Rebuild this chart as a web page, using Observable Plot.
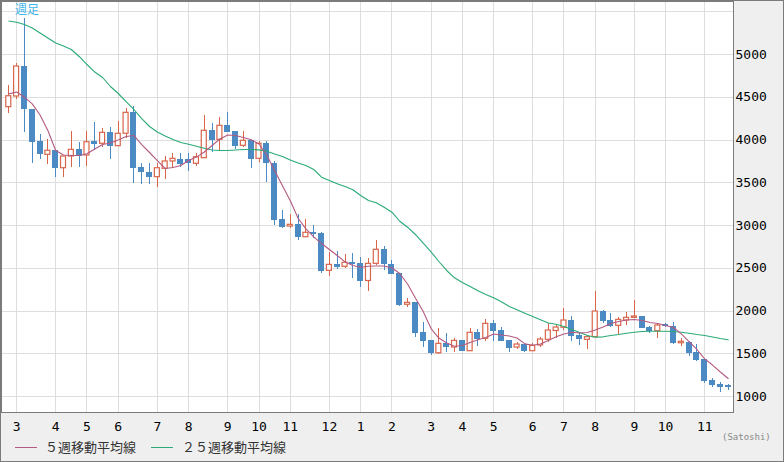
<!DOCTYPE html>
<html><head><meta charset="utf-8">
<script src="https://cdn.jsdelivr.net/npm/d3@7"></script>
<script src="https://cdn.jsdelivr.net/npm/@observablehq/plot@0.6"></script>
<style>
body{margin:0;background:#efefef;}
#wrap{position:relative;width:784px;height:462px;background:#efefef;overflow:hidden;}
#border{position:absolute;left:0;top:0;width:784px;height:462px;box-sizing:border-box;border:1px solid #7b7b7b;pointer-events:none;}
.ov{position:absolute;white-space:nowrap;}
.sw{position:absolute;height:0;border-top:1px solid;}
</style></head>
<body>
<div id="wrap"></div>
<script>
// ---- data ----
const firstWeek = "2015-02-23";   // weekly candles (Monday start)
const lastWeek  = "2016-11-28";
const open  = [4384,4509,4860,4353,3982,3827,3874,3670,3807,3885,
               3819,3979,3956,4084,3928,4073,4318,3682,3620,3565,
               3663,3749,3772,3772,3722,3787,4108,4002,4173,4103,
               3932,3991,3780,3956,3729,3070,2988,3008,2863,2915,
               2906,2470,2544,2517,2564,2552,2351,2552,2716,2544,
               2435,2073,2103,1745,1655,1506,1616,1573,1651,1530,
               1745,1675,1850,1772,1651,1573,1608,1530,1597,1663,
               1766,1804,1889,1713,1663,1694,1998,1889,1827,1889,
               1920,1936,1811,1764,1839,1819,1623,1635,1518,1433,
               1187,1144,1125];
const high  = [4634,4898,5417,4353,4061,4002,3874,3807,4099,3967,
               4099,4201,4138,4150,4216,4365,4392,3722,3722,3722,
               3811,3838,3838,3846,3838,4290,4197,4260,4322,4103,
               4103,3991,3986,3986,3752,3176,3125,3125,3070,3000,
               2922,2681,2696,2657,2669,2629,2614,2825,2754,2591,
               2435,2143,2103,1869,1655,1792,1733,1675,1651,1792,
               1780,1897,1889,1811,1651,1635,1608,1616,1694,1850,
               1842,2033,1939,1733,1713,2228,2006,1967,1928,1986,
               2123,1936,1819,1850,1857,1869,1675,1647,1608,1433,
               1214,1160,1137];
const low   = [4313,4474,4091,3729,3772,3713,3565,3565,3682,3682,
               3694,3877,3916,3768,3928,4021,3495,3476,3476,3448,
               3535,3663,3682,3635,3694,3787,3857,3877,4091,3889,
               3916,3670,3740,3506,3000,2961,2961,2825,2863,2844,
               2435,2407,2485,2501,2384,2278,2234,2532,2474,2427,
               2053,2044,1694,1577,1483,1491,1518,1518,1530,1530,
               1588,1647,1647,1647,1518,1546,1518,1530,1577,1635,
               1682,1772,1647,1596,1550,1694,1850,1804,1725,1830,
               1920,1799,1733,1682,1811,1605,1585,1468,1413,1149,
               1109,1050,1070];
const close = [4512,4860,4353,3974,3827,3874,3670,3807,3885,3807,
               3974,3947,4084,3928,4073,4318,3670,3620,3565,3670,
               3749,3780,3713,3722,3799,4108,3994,4166,4091,3928,
               3991,3772,3956,3722,3058,2977,3008,2863,2915,2895,
               2466,2540,2512,2564,2544,2345,2552,2716,2540,2427,
               2064,2096,1740,1647,1506,1616,1570,1651,1530,1745,
               1670,1850,1764,1647,1565,1608,1530,1593,1667,1772,
               1807,1889,1705,1663,1694,1994,1881,1819,1897,1920,
               1936,1799,1764,1830,1822,1616,1640,1506,1421,1179,
               1129,1109,1102];
const ma5   = [4540,4561,4501,4423,4292,4111,3877,3825,3819,3819,
               3839,3895,3947,3965,4000,4041,4053,3947,3854,3760,
               3667,3678,3702,3760,3800,3860,3936,4012,4059,4053,
               4029,4002,3953,3822,3643,3464,3289,3085,2961,2868,
               2789,2719,2649,2575,2532,2512,2524,2526,2526,2503,
               2439,2316,2152,1994,1795,1684,1626,1588,1596,1632,
               1663,1690,1731,1719,1708,1684,1616,1600,1614,1655,
               1700,1731,1752,1743,1749,1778,1813,1854,1877,1895,
               1901,1889,1866,1854,1830,1807,1733,1643,1550,1441,
               1368,1287,1211];
const ma25  = [5392,5378,5351,5310,5251,5193,5134,5099,5059,4977,
               4883,4795,4731,4626,4544,4450,4357,4251,4158,4093,
               4046,4006,3971,3950,3927,3904,3883,3877,3877,3883,
               3889,3889,3885,3869,3836,3807,3766,3731,3702,3655,
               3565,3526,3488,3456,3418,3351,3292,3266,3214,3156,
               3050,2980,2895,2793,2692,2579,2474,2388,2333,2287,
               2236,2193,2154,2108,2053,2014,1974,1936,1897,1860,
               1845,1819,1784,1749,1713,1694,1698,1713,1725,1740,
               1752,1760,1764,1764,1764,1760,1752,1740,1725,1713,
               1696,1678,1663];
const yTicks = [1000,1500,2000,2500,3000,3500,4000,4500,5000];
const yGridLines = [1000,1500,2000,2500,3000,3500,4000,4500,5000,5500];
const legendLabels = ["５週移動平均線","２５週移動平均線"];
const titleText = "週足";
const unitText = "(Satoshi)";

// ---- colors ----
const UP = "#d8654a", DOWN = "#4b8ac2", C5 = "#b45a82", C25 = "#2aaa76", GRID = "#dedede";

// ---- build ----
const dates = d3.utcMonday.range(new Date(firstWeek), d3.utcDay.offset(new Date(lastWeek), 1));
const candles = dates.map((date, i) => ({date, open: open[i], high: high[i], low: low[i], close: close[i], ma5: ma5[i], ma25: ma25[i]}));
const ups = candles.filter(d => d.close >= d.open);
const downs = candles.filter(d => d.close < d.open);
const monthStarts = dates.filter((d, i) => i > 0 && d.getUTCMonth() !== dates[i - 1].getUTCMonth());
const WEEK = 7 * 864e5, DAY = 864e5;
const xDomain = [new Date(+dates[0] - 0.93 * WEEK), new Date(+dates[dates.length - 1] + 0.68 * WEEK)];

const chart = Plot.plot({
  width: 784, height: 462,
  marginLeft: 1, marginRight: 51, marginTop: 1, marginBottom: 50,
  style: {background: "transparent", fontFamily: "'DejaVu Sans Mono', monospace", fontSize: "13px", color: "#000", overflow: "visible"},
  x: {type: "utc", domain: xDomain, axis: null},
  y: {domain: [813, 5620], axis: null},
  marks: [
    Plot.frame({fill: "white"}),
    Plot.gridY(yGridLines, {stroke: GRID, strokeOpacity: 1, shapeRendering: "crispEdges"}),
    Plot.gridX(monthStarts, {stroke: GRID, strokeOpacity: 1, shapeRendering: "crispEdges"}),
    Plot.axisY(yTicks, {anchor: "right", tickSize: 0, tickPadding: 2, tickFormat: d => String(d), fill: "#000"}),
    Plot.axisX(monthStarts, {anchor: "bottom", tickSize: 0, tickPadding: 9, tickFormat: d => String(d.getUTCMonth() + 1), fill: "#000"}),
    Plot.ruleX(downs, {x: "date", y1: "low", y2: "high", stroke: DOWN, strokeWidth: 1, shapeRendering: "crispEdges"}),
    Plot.ruleX(ups, {x: "date", y1: "low", y2: "high", stroke: UP, strokeWidth: 1, shapeRendering: "crispEdges"}),
    Plot.rect(downs, {x1: d => new Date(+d.date - 2.69 * DAY), x2: d => new Date(+d.date + 2.69 * DAY), y1: "open", y2: "close", fill: DOWN, shapeRendering: "crispEdges"}),
    Plot.rect(ups, {x1: d => new Date(+d.date - 2.24 * DAY), x2: d => new Date(+d.date + 2.24 * DAY), y1: "open", y2: "close", fill: "white", stroke: UP, strokeWidth: 1.2}),
    Plot.line(candles, {x: "date", y: "ma25", stroke: C25, strokeWidth: 1.1}),
    Plot.line(candles, {x: "date", y: "ma5", stroke: C5, strokeWidth: 1.1}),
    Plot.frame({stroke: "#7b7b7b"})
  ]
});

const wrap = document.getElementById("wrap");
wrap.appendChild(chart);

function addText(txt, left, top, style) {
  const el = document.createElement("div");
  el.className = "ov";
  el.textContent = txt;
  el.style.left = left + "px";
  el.style.top = top + "px";
  Object.assign(el.style, style);
  wrap.appendChild(el);
}
function addSwatch(left, top, width, color) {
  const el = document.createElement("div");
  el.className = "sw";
  el.style.left = left + "px";
  el.style.top = top + "px";
  el.style.width = width + "px";
  el.style.borderTopColor = color;
  wrap.appendChild(el);
}
// title
addText(titleText, 15, 2, {font: "12px/14px 'Noto Sans CJK JP'", color: "#3db4ea"});
// unit
addText(unitText, 722, 432, {font: "9px/11px 'DejaVu Sans Mono'", color: "#888"});
// legend
addSwatch(15, 447, 22, C5);
addText(legendLabels[0], 45, 439, {font: "13px/16px 'Noto Sans CJK JP'", color: "#333"});
addSwatch(151, 447, 22, C25);
addText(legendLabels[1], 182, 439, {font: "13px/16px 'Noto Sans CJK JP'", color: "#333"});
const b = document.createElement("div"); b.id = "border"; wrap.appendChild(b);
</script>
</body></html>
